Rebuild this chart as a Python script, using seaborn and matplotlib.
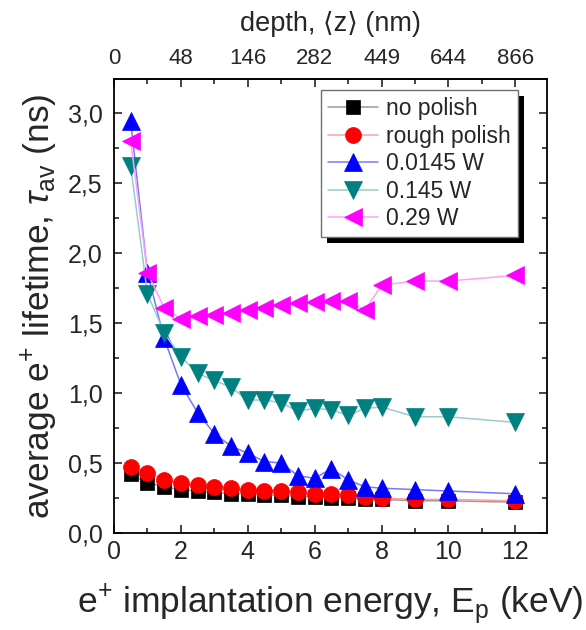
"""
Average positron lifetime vs. implantation energy for differently polished samples.
"""

import matplotlib
matplotlib.use("Agg")
import matplotlib.pyplot as plt
import matplotlib.ticker as mticker
from matplotlib.patches import Rectangle
import seaborn as sns

# ── Data ─────────────────────────────────────────────────────────────

energy = [0.5, 1.0, 1.5, 2.0, 2.5, 3.0, 3.5, 4.0, 4.5, 5.0,
          5.5, 6.0, 6.5, 7.0, 7.5, 8.0, 9.0, 10.0, 12.0]

no_polish = [0.42, 0.36, 0.33, 0.31, 0.30, 0.29, 0.28, 0.28, 0.27, 0.27,
             0.26, 0.26, 0.25, 0.25, 0.24, 0.24, 0.23, 0.23, 0.22]
rough_polish = [0.47, 0.43, 0.38, 0.36, 0.34, 0.33, 0.32, 0.31, 0.30, 0.30,
                0.29, 0.28, 0.28, 0.27, 0.26, 0.25, 0.24, 0.24, 0.23]
w_0145 = [2.94, 1.86, 1.39, 1.06, 0.86, 0.71, 0.62, 0.57, 0.51, 0.50,
          0.41, 0.39, 0.46, 0.38, 0.33, 0.32, 0.31, 0.30, 0.28]
w_145 = [2.62, 1.71, 1.43, 1.26, 1.14, 1.09, 1.04, 0.95, 0.95, 0.93,
         0.87, 0.89, 0.88, 0.84, 0.89, 0.90, 0.83, 0.83, 0.79]
w_29 = [2.80, 1.86, 1.61, 1.53, 1.55, 1.56, 1.57, 1.59, 1.61, 1.63,
        1.64, 1.65, 1.66, 1.66, 1.59, 1.77, 1.80, 1.80, 1.84]

series_labels = ["no polish", "rough polish", "0.0145 W", "0.145 W", "0.29 W"]
depth_ticks = [0, 2, 4, 6, 8, 10, 12]
depth_labels = ["0", "48", "146", "282", "449", "644", "866"]

# ── Style ────────────────────────────────────────────────────────────

sns.set_theme(style="ticks")
plt.rcParams.update({
    "font.family": ["Liberation Sans", "DejaVu Sans"],
    "mathtext.fontset": "custom",
    "mathtext.rm": "Liberation Sans",
    "mathtext.it": "Liberation Sans:italic",
    "axes.linewidth": 1.3,
    "xtick.direction": "in",
    "ytick.direction": "in",
})

styles = [
    # marker, marker colour, line colour, marker size
    ("s", "#000000", "#9a9a9a", 10),
    ("o", "#ff0000", "#ffa0a0", 11.5),
    ("^", "#0000ff", "#7878ff", 13.5),
    ("v", "#008080", "#99cccc", 13.5),
    ("<", "#ff00ff", "#ffa0ff", 13.5),
]

fig = plt.figure(figsize=(5.86, 6.30), dpi=100)
ax = fig.add_axes([0.1945, 0.154, 0.739, 0.721])

for vals, label, (m, mc, lc, ms) in zip(
    [no_polish, rough_polish, w_0145, w_145, w_29], series_labels, styles
):
    sns.lineplot(
        x=energy, y=vals, ax=ax, color=lc, lw=1.1, label=label,
        marker=m, markersize=ms, markerfacecolor=mc, markeredgecolor=mc,
        markeredgewidth=0.5, errorbar=None,
    )

ax.set_xlim(0, 12.95)
ax.set_ylim(0, 3.245)

ax.xaxis.set_major_locator(mticker.MultipleLocator(2))
ax.xaxis.set_minor_locator(mticker.MultipleLocator(1))
ax.yaxis.set_major_locator(mticker.MultipleLocator(0.5))
ax.yaxis.set_minor_locator(mticker.MultipleLocator(0.25))
ax.yaxis.set_major_formatter(
    mticker.FuncFormatter(lambda v, p: f"{v:.1f}".replace(".", ","))
)
ax.tick_params(axis="both", which="major", length=6, width=1.2,
               labelsize=18, right=True, pad=5)
ax.tick_params(axis="y", which="major", pad=8)
ax.tick_params(axis="both", which="minor", length=3.5, width=1.2, right=True)
ax.tick_params(axis="x", which="both", top=False)
for s in ax.spines.values():
    s.set_color("black")
    s.set_visible(True)

ax.set_xlabel(r"e$^{+}$ implantation energy, E$_{\mathrm{p}}$ (keV)",
              fontsize=25.5, labelpad=14)
ax.set_ylabel(r"average e$^{+}$ lifetime, $\tau_{\mathrm{av}}$ (ns)",
              fontsize=25.5, labelpad=6)

# top axis: mean implantation depth
top = ax.secondary_xaxis("top")
top.set_xticks(depth_ticks, depth_labels)
top.xaxis.set_minor_locator(mticker.MultipleLocator(1))
top.tick_params(which="major", direction="in", length=6, width=1.2,
                labelsize=16, pad=7)
top.tick_params(which="minor", direction="in", length=3.5, width=1.2)
top.set_xlabel("depth, ⟨z⟩ (nm)", fontsize=19.5, labelpad=12)

leg = ax.legend(
    loc="upper right", bbox_to_anchor=(0.932, 0.975), fontsize=16.5,
    frameon=True, fancybox=False, edgecolor="#707070", framealpha=1,
    handlelength=2.2, handletextpad=0.35, labelspacing=0.2,
    borderpad=0.3, borderaxespad=0,
)
leg.get_frame().set_linewidth(1.0)

# solid drop shadow behind the legend
fig.canvas.draw()
bb = leg.get_window_extent()
shadow = Rectangle((bb.x0 + 6, bb.y0 - 6), bb.width, bb.height,
                   transform=None, facecolor="black", edgecolor="none",
                   zorder=4.5)
ax.add_artist(shadow)
leg.set_zorder(6)

fig.savefig("out.png", dpi=100)
plt.close(fig)
